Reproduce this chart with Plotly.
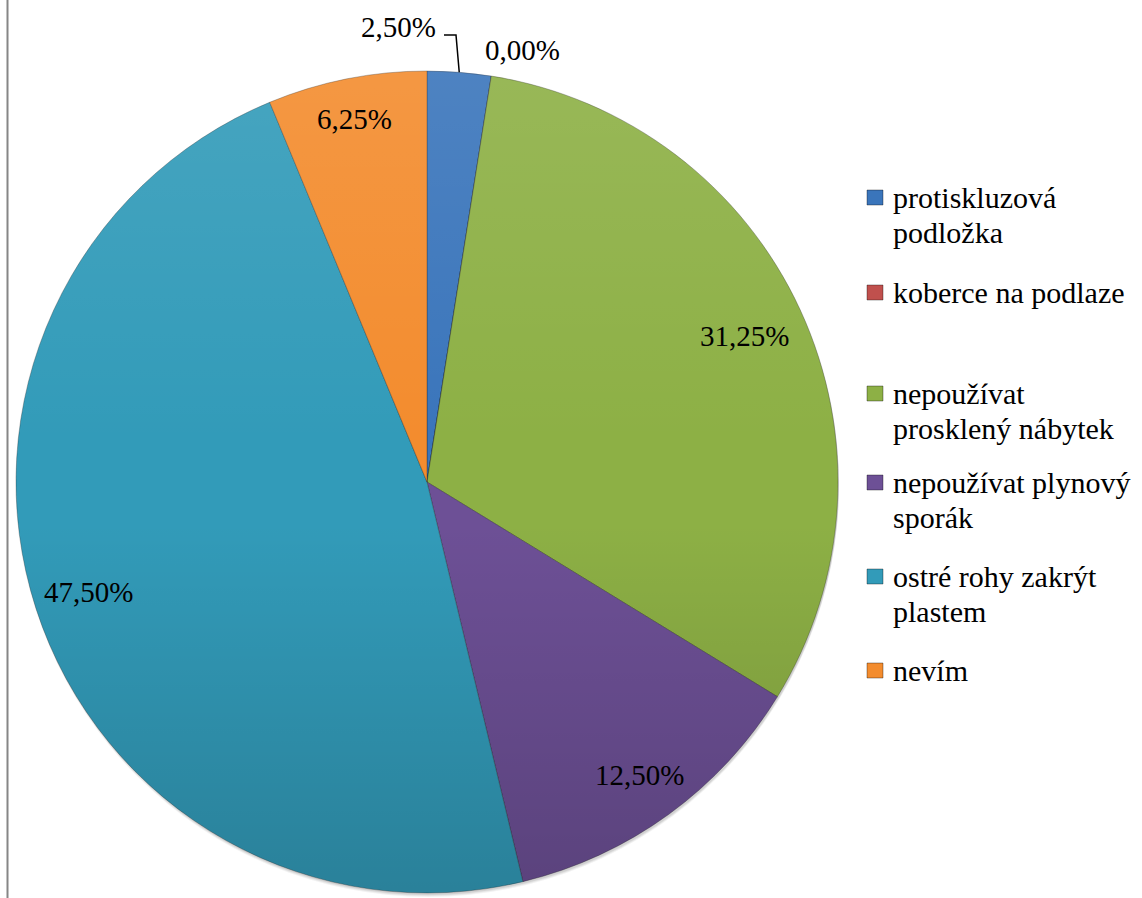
import base64
import math
import plotly.graph_objects as go

# Survey answers and their shares (percent)
categories = [
    "protiskluzová<br>podložka",
    "koberce na podlaze",
    "nepoužívat<br>prosklený nábytek",
    "nepoužívat plynový<br>sporák",
    "ostré rohy zakrýt<br>plastem",
    "nevím",
]
shares = [2.5, 0.0, 31.25, 12.5, 47.5, 6.25]
colors = ["#3A75BB", "#C0504D", "#8DB045", "#6D5096", "#329BB9", "#F38C2E"]

W, H = 1142, 898
CX, CY, R = 427, 482, 411  # pie centre and radius in pixels

FONT = "Liberation Serif"


def fmt(v):
    return f"{v:.2f}%".replace(".", ",")


def px_x(px):
    return px / W


def px_y(py):
    return 1 - py / H


fig = go.Figure(
    go.Pie(
        labels=categories,
        values=shares,
        sort=False,
        direction="clockwise",
        rotation=0,
        marker=dict(colors=colors, line=dict(color="rgba(30,30,30,0.3)", width=1)),
        textinfo="none",
        hoverinfo="label+value",
        showlegend=False,
        domain=dict(x=[px_x(CX - R), px_x(CX + R)], y=[px_y(CY + R), px_y(CY - R)]),
    )
)

annotations = []


def add_text(px, py, text, size=29, xanchor="center"):
    annotations.append(dict(x=px_x(px), y=px_y(py), xref="paper", yref="paper",
                            text=text, showarrow=False, xanchor=xanchor, yanchor="middle",
                            font=dict(size=size, color="#000", family=FONT)))


# data labels inside the larger slices, placed near the outer rim on the slice bisector
inside_frac = [None, None, 0.85, 0.88, 0.865, 0.90]
total = sum(shares)
cum = 0.0
for i, v in enumerate(shares):
    mid = (cum + v / 2) / total * 2 * math.pi  # clockwise from 12 o'clock
    cum += v
    f = inside_frac[i]
    if f is not None:
        add_text(CX + f * R * math.sin(mid), CY - f * R * math.cos(mid), fmt(v))

# small slices at the top get outside labels
mid0 = (shares[0] / 2) / total * 2 * math.pi
ex = CX + R * math.sin(mid0)
ey = CY - R * math.cos(mid0)
add_text(398, 27, fmt(shares[0]))
add_text(522, 50, fmt(shares[1]))

shapes = []
# soft shadow under the pie
for k, a in [(4, 0.05), (3, 0.06), (2, 0.08)]:
    shapes.append(dict(type="circle", xref="paper", yref="paper", layer="below",
                       x0=px_x(CX - R + 1), x1=px_x(CX + R + 1),
                       y0=px_y(CY + R + k), y1=px_y(CY - R + k),
                       fillcolor=f"rgba(0,0,0,{a})", line=dict(width=0)))
# leader line for the 2,50% label
shapes.append(dict(type="path", xref="paper", yref="paper",
                   path=f"M {px_x(444)} {px_y(35)} L {px_x(456)} {px_y(35)} L {px_x(ex)} {px_y(ey)}",
                   line=dict(color="#000", width=1.5)))
# frame line on the left
shapes.append(dict(type="line", xref="paper", yref="paper", x0=px_x(7.5), x1=px_x(7.5),
                   y0=0, y1=1, line=dict(color="#868686", width=2)))

# legend: colour square + wrapped label lines
legend_top = [197, 292, 393, 482, 576, 670]  # centre of first text line per entry
line_gap = 35
for i, label in enumerate(categories):
    y0 = legend_top[i]
    shapes.append(dict(type="rect", xref="paper", yref="paper",
                       x0=px_x(867), x1=px_x(883), y0=px_y(y0 + 8), y1=px_y(y0 - 7),
                       fillcolor=colors[i], line=dict(color="rgba(0,0,0,0.35)", width=1)))
    for j, line in enumerate(label.split("<br>")):
        add_text(891, y0 + j * line_gap, line, size=30, xanchor="left")

# vertical light-to-dark sheen over the pie disc
sheen_svg = (
    '<svg xmlns="http://www.w3.org/2000/svg" viewBox="0 0 100 100" preserveAspectRatio="none">'
    '<defs><linearGradient id="g" x1="0" y1="0" x2="0" y2="1">'
    '<stop offset="0" stop-color="#fff" stop-opacity="0.10"/>'
    '<stop offset="0.45" stop-color="#fff" stop-opacity="0"/>'
    '<stop offset="0.55" stop-color="#000" stop-opacity="0"/>'
    '<stop offset="1" stop-color="#000" stop-opacity="0.17"/>'
    '</linearGradient></defs>'
    '<circle cx="50" cy="50" r="50" fill="url(#g)"/></svg>'
)
sheen_uri = "data:image/svg+xml;base64," + base64.b64encode(sheen_svg.encode()).decode()

fig.update_layout(
    width=W,
    height=H,
    margin=dict(l=0, r=0, t=0, b=0),
    paper_bgcolor="white",
    plot_bgcolor="white",
    separators=", ",
    font=dict(family=FONT, size=29, color="#000"),
    showlegend=False,
    annotations=annotations,
    shapes=shapes,
    images=[dict(source=sheen_uri, xref="paper", yref="paper",
                 x=px_x(CX - R), y=px_y(CY - R), sizex=2 * R / W, sizey=2 * R / H,
                 xanchor="left", yanchor="top", sizing="stretch", layer="above")],
)

fig.write_html("out.html")
